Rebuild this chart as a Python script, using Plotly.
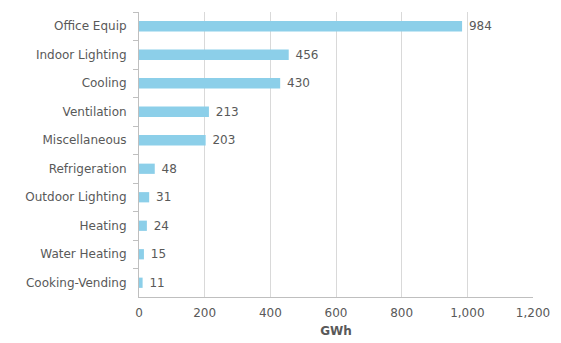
import plotly.graph_objects as go

categories = ["Office Equip", "Indoor Lighting", "Cooling", "Ventilation", "Miscellaneous",
              "Refrigeration", "Outdoor Lighting", "Heating", "Water Heating", "Cooking-Vending"]
values = [984, 456, 430, 213, 203, 48, 31, 24, 15, 11]
x_ticks = [0, 200, 400, 600, 800, 1000, 1200]
x_tick_labels = ["0", "200", "400", "600", "800", "1,000", "1,200"]

FONT = "DejaVu Sans"
FS = 12
TXT = "#595959"

fig = go.Figure(go.Bar(
    y=categories, x=values, orientation="h",
    marker=dict(color="#8ccfe9", line=dict(width=0)),
    text=["\u00a0" + str(v) for v in values], textposition="outside",
    textfont=dict(size=FS, color=TXT, family=FONT),
    constraintext="none", cliponaxis=False,
))

fig.update_layout(
    width=553, height=335,
    margin=dict(l=131, r=28, t=4, b=46, autoexpand=False),
    plot_bgcolor="white", paper_bgcolor="white",
    bargap=0.64, showlegend=False,
    font=dict(family=FONT, size=FS, color=TXT),
    xaxis=dict(range=[0, 1200], tickvals=x_ticks, ticktext=x_tick_labels,
               showgrid=True, gridcolor="#d9d9d9", gridwidth=1,
               showline=True, linecolor="#bfbfbf", zeroline=False,
               ticks="", tickfont=dict(size=FS, color=TXT), automargin=False,
               ticklabelstandoff=5,
               title=dict(text="<b>GWh</b>", font=dict(size=FS, color=TXT), standoff=7)),
    yaxis=dict(autorange="reversed", showline=True, linecolor="#bfbfbf",
               ticks="outside", tickson="boundaries", ticklen=5, tickcolor="#bfbfbf",
               showgrid=False, tickfont=dict(size=FS, color=TXT), ticklabelstandoff=9,
               automargin=False),
)

fig.write_html("out.html")
